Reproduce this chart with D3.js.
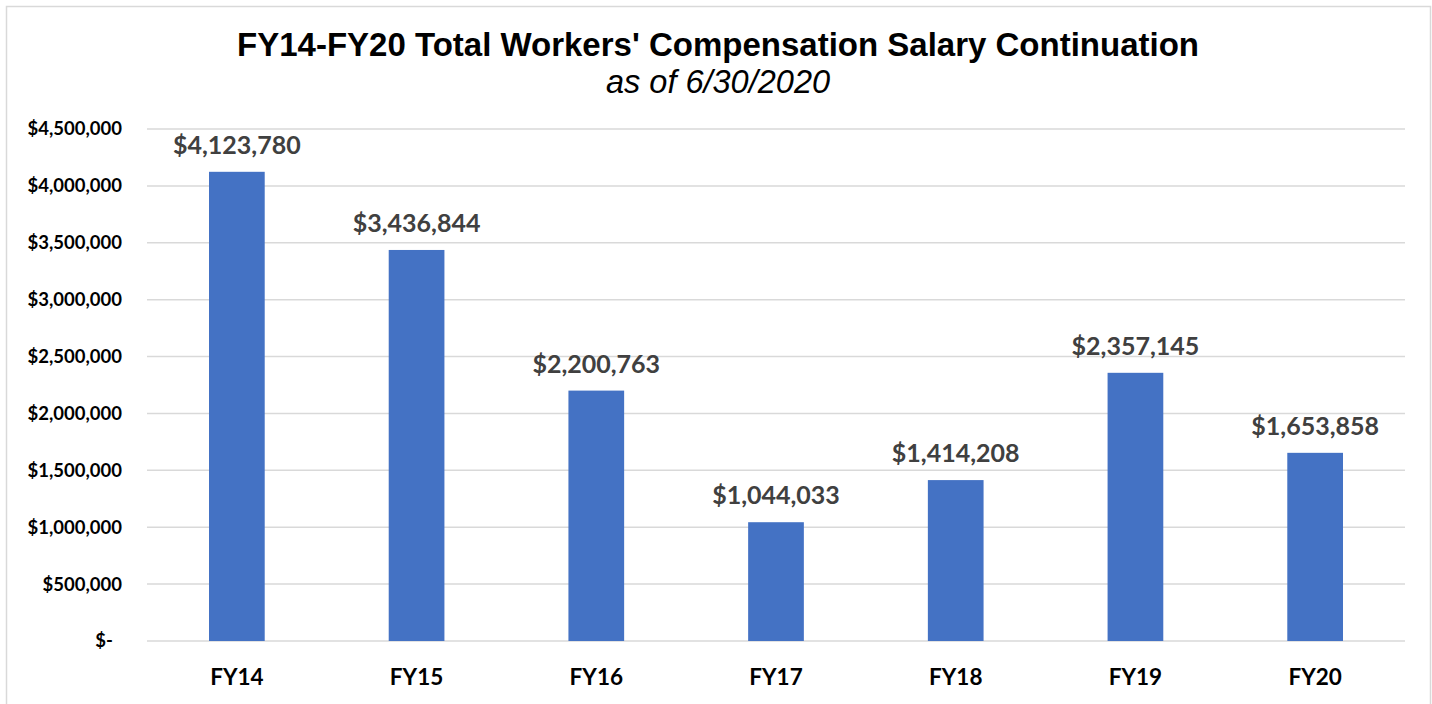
<!DOCTYPE html>
<html>
<head>
<meta charset="utf-8">
<script src="https://cdn.jsdelivr.net/npm/d3@7"></script>
<style>
  html, body { margin: 0; padding: 0; background: #fff; }
  svg { display: block; }
  .axis text { font-family: Lato, 'Open Sans', sans-serif; font-weight: 700; fill: #000; }
  .label { font-family: Lato, 'Open Sans', sans-serif; font-weight: 700; fill: #404040; }
</style>
</head>
<body>
<svg id="chart"></svg>
<script>
const categories = ['FY14', 'FY15', 'FY16', 'FY17', 'FY18', 'FY19', 'FY20']
const values = [4123780, 3436844, 2200763, 1044033, 1414208, 2357145, 1653858]
const yTicks = [0, 500000, 1000000, 1500000, 2000000, 2500000, 3000000, 3500000, 4000000, 4500000]

const width = 1432
const height = 704
const margin = { top: 129, right: 27, bottom: 63, left: 147 }

const svg = d3.select('#chart')
  .attr('width', width)
  .attr('height', height)

// outer border
svg.append('rect')
  .attr('x', 6.5).attr('y', 6.5)
  .attr('width', width - 8).attr('height', height - 4)
  .attr('fill', 'none')
  .attr('stroke', '#d9d9d9')
  .attr('stroke-width', 1.5)

const x = d3.scaleBand()
  .domain(categories)
  .range([margin.left, width - margin.right])
  .paddingInner(0.69)
  .paddingOuter(0.345)

const y = d3.scaleLinear()
  .domain([0, 4500000])
  .range([height - margin.bottom, margin.top])

const fmtMoney = d3.format('$,')

// gridlines
svg.append('g')
  .selectAll('line')
  .data(yTicks)
  .join('line')
  .attr('x1', margin.left)
  .attr('x2', width - margin.right)
  .attr('y1', d => y(d))
  .attr('y2', d => y(d))
  .attr('stroke', '#d9d9d9')
  .attr('stroke-width', 1.5)

// y axis labels
const yAxis = d3.axisLeft(y)
  .tickValues(yTicks)
  .tickSize(0)
  .tickPadding(25)
  .tickFormat(d => d === 0 ? '$-' : fmtMoney(d))

svg.append('g')
  .attr('class', 'axis axis--y')
  .attr('transform', `translate(${margin.left},0)`)
  .call(yAxis)
  .call(g => g.select('.domain').remove())
  .call(g => g.selectAll('text').attr('font-size', 18.5))
  .call(g => g.selectAll('.tick').filter(d => d === 0).select('text').attr('dx', -9))

// x axis labels
const xAxis = d3.axisBottom(x).tickSize(0).tickPadding(28)

svg.append('g')
  .attr('class', 'axis axis--x')
  .attr('transform', `translate(0,${height - margin.bottom})`)
  .call(xAxis)
  .call(g => g.select('.domain').remove())
  .call(g => g.selectAll('text').attr('font-size', 22.5))

// bars
svg.append('g')
  .selectAll('rect')
  .data(values)
  .join('rect')
  .attr('x', (d, i) => x(categories[i]))
  .attr('width', x.bandwidth())
  .attr('y', d => y(d))
  .attr('height', d => y(0) - y(d))
  .attr('fill', '#4472c4')

// data labels
svg.append('g')
  .selectAll('text')
  .data(values)
  .join('text')
  .attr('class', 'label')
  .attr('x', (d, i) => x(categories[i]) + x.bandwidth() / 2)
  .attr('y', d => y(d) - 18)
  .attr('text-anchor', 'middle')
  .attr('font-size', 25)
  .text(d => fmtMoney(d))

// title
svg.append('text')
  .attr('x', 718)
  .attr('y', 56)
  .attr('text-anchor', 'middle')
  .attr('font-family', "'Liberation Sans', Arial, sans-serif")
  .attr('font-weight', 700)
  .attr('font-size', 33)
  .attr('fill', '#000')
  .text("FY14-FY20 Total Workers' Compensation Salary Continuation")

svg.append('text')
  .attr('x', 718)
  .attr('y', 93)
  .attr('text-anchor', 'middle')
  .attr('font-family', "'Liberation Sans', Arial, sans-serif")
  .attr('font-style', 'italic')
  .attr('font-size', 32.5)
  .attr('fill', '#000')
  .text('as of 6/30/2020')
</script>
</body>
</html>
